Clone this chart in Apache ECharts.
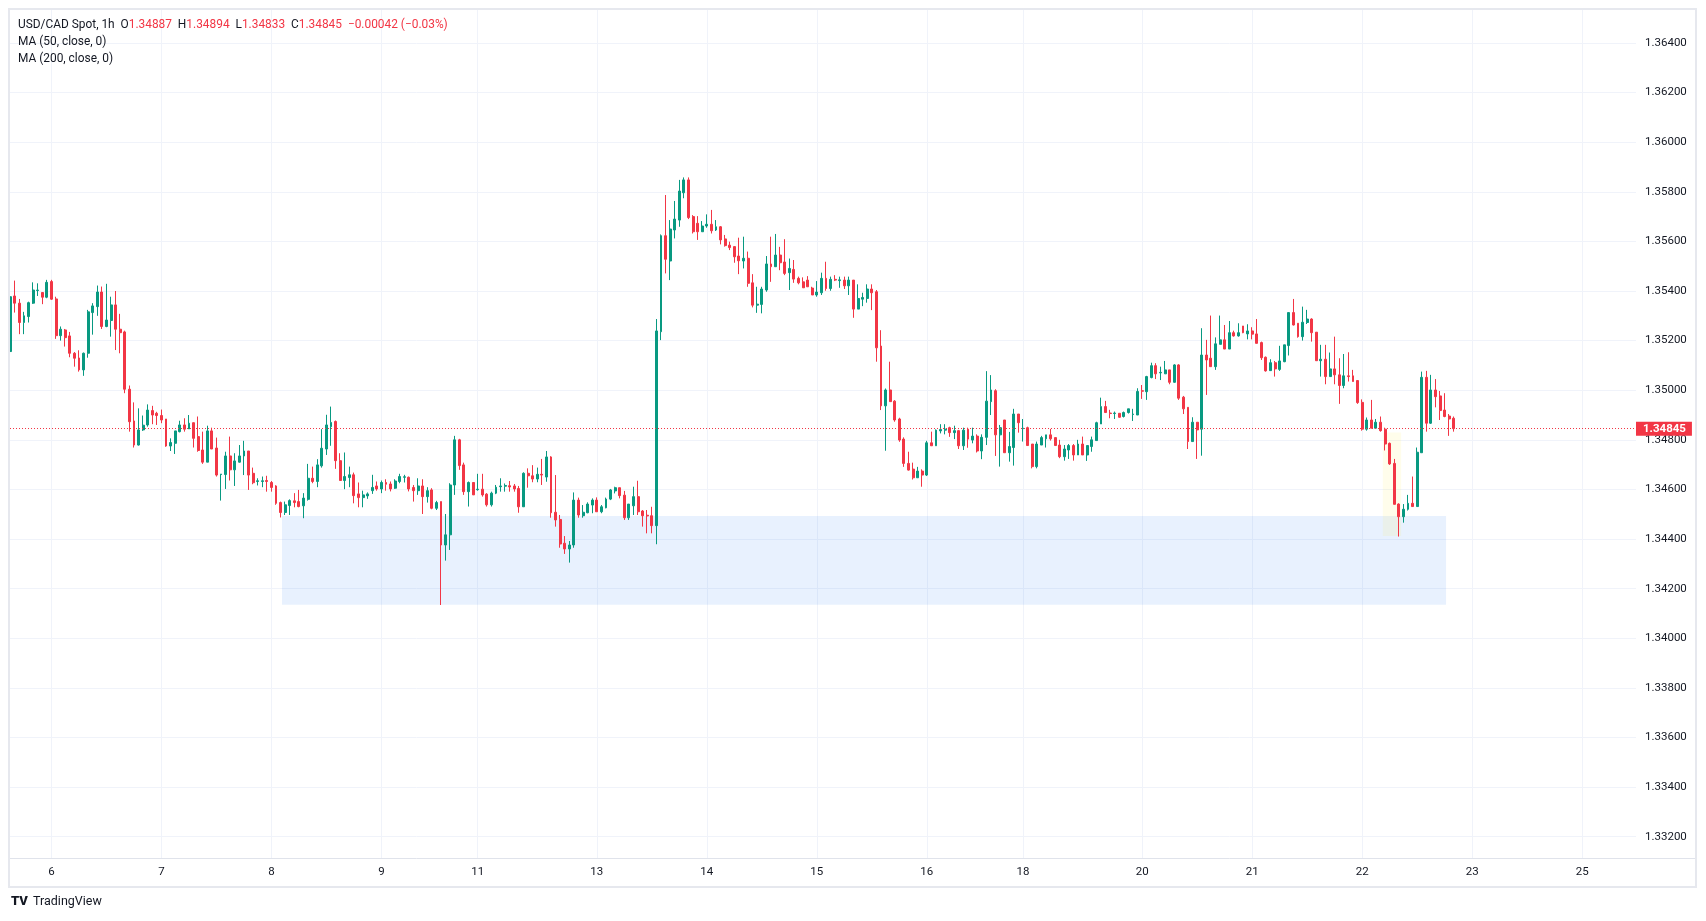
<!DOCTYPE html>
<html>
<head>
<meta charset="utf-8">
<script src="https://cdn.jsdelivr.net/npm/echarts@6/dist/echarts.min.js"></script>
<style>html,body{margin:0;padding:0;background:#fff}#c{width:1706px;height:921px}</style>
</head>
<body>
<div id="c"></div>
<script>
// USD/CAD Spot, 1h candles — each row is [open, high, low, close]
const feb05 = [
[1.35156,1.35442,1.35156,1.35377],[1.35380,1.35442,1.35313,1.35351],[1.35351,1.35368,1.35226,1.35273],
[1.35273,1.35316,1.35226,1.35300],[1.35297,1.35357,1.35273,1.35353],[1.35351,1.35435,1.35348,1.35404],
[1.35402,1.35431,1.35380,1.35404],[1.35394,1.35394,1.35347,1.35375],[1.35375,1.35445,1.35371,1.35435]
];
const feb06 = [
[1.35438,1.35445,1.35364,1.35367],[1.35368,1.35377,1.35207,1.35220],[1.35220,1.35257,1.35200,1.35246],
[1.35243,1.35247,1.35176,1.35212],[1.35219,1.35235,1.35133,1.35149],[1.35149,1.35154,1.35095,1.35129],
[1.35130,1.35161,1.35075,1.35082],[1.35082,1.35152,1.35058,1.35149],[1.35149,1.35324,1.35131,1.35316],
[1.35313,1.35351,1.35224,1.35340],[1.35337,1.35422,1.35300,1.35396],[1.35396,1.35418,1.35247,1.35257],
[1.35257,1.35429,1.35254,1.35283],[1.35281,1.35377,1.35216,1.35344],[1.35344,1.35400,1.35162,1.35246],
[1.35246,1.35308,1.35149,1.35232],[1.35235,1.35240,1.34988,1.35004],[1.35004,1.35019,1.34833,1.34873],
[1.34876,1.34951,1.34769,1.34779],[1.34779,1.34927,1.34777,1.34840],[1.34840,1.34898,1.34836,1.34859],
[1.34860,1.34943,1.34853,1.34920],[1.34918,1.34937,1.34863,1.34900],[1.34907,1.34913,1.34860,1.34898]
];
const feb07 = [
[1.34898,1.34922,1.34867,1.34880],[1.34884,1.34884,1.34772,1.34775],[1.34775,1.34806,1.34755,1.34789],
[1.34786,1.34836,1.34743,1.34836],[1.34833,1.34877,1.34830,1.34860],[1.34860,1.34887,1.34833,1.34843],
[1.34844,1.34900,1.34844,1.34867],[1.34869,1.34870,1.34769,1.34806],[1.34813,1.34894,1.34752,1.34757],
[1.34759,1.34833,1.34703,1.34710],[1.34710,1.34857,1.34710,1.34836],[1.34836,1.34849,1.34763,1.34763],
[1.34767,1.34809,1.34652,1.34658],[1.34660,1.34662,1.34555,1.34662],[1.34660,1.34752,1.34602,1.34735],
[1.34735,1.34813,1.34636,1.34679],[1.34679,1.34746,1.34614,1.34715],[1.34710,1.34779,1.34708,1.34735],
[1.34735,1.34796,1.34658,1.34755],[1.34755,1.34755,1.34598,1.34658],[1.34665,1.34688,1.34621,1.34627],
[1.34632,1.34645,1.34616,1.34635],[1.34632,1.34652,1.34609,1.34635],[1.34636,1.34655,1.34591,1.34632]
];
const feb08 = [
[1.34628,1.34634,1.34591,1.34608],[1.34614,1.34617,1.34538,1.34544],[1.34547,1.34551,1.34487,1.34507],
[1.34507,1.34551,1.34497,1.34538],[1.34535,1.34560,1.34497,1.34555],[1.34554,1.34585,1.34528,1.34547],
[1.34551,1.34598,1.34528,1.34531],[1.34534,1.34585,1.34484,1.34565],[1.34560,1.34703,1.34555,1.34645],
[1.34645,1.34692,1.34625,1.34632],[1.34632,1.34722,1.34609,1.34699],[1.34695,1.34843,1.34688,1.34766],
[1.34763,1.34901,1.34739,1.34860],[1.34853,1.34934,1.34776,1.34870],[1.34874,1.34878,1.34683,1.34716],
[1.34716,1.34746,1.34636,1.34636],[1.34636,1.34749,1.34601,1.34652],[1.34648,1.34692,1.34609,1.34659],
[1.34659,1.34668,1.34544,1.34575],[1.34582,1.34628,1.34528,1.34567],[1.34567,1.34595,1.34528,1.34578],
[1.34574,1.34588,1.34562,1.34582],[1.34595,1.34659,1.34582,1.34608],[1.34614,1.34632,1.34595,1.34602]
];
const feb09 = [
[1.34602,1.34636,1.34585,1.34628],[1.34628,1.34641,1.34595,1.34621],[1.34622,1.34632,1.34592,1.34602],
[1.34605,1.34641,1.34602,1.34634],[1.34632,1.34663,1.34625,1.34652],[1.34649,1.34659,1.34628,1.34651],
[1.34649,1.34652,1.34592,1.34602],[1.34608,1.34618,1.34551,1.34595],[1.34595,1.34645,1.34578,1.34614],
[1.34614,1.34641,1.34501,1.34571],[1.34571,1.34609,1.34547,1.34595],[1.34598,1.34605,1.34520,1.34524],
[1.34524,1.34554,1.34517,1.34547],[1.34551,1.34551,1.34134,1.34376],[1.34376,1.34501,1.34313,1.34417],
[1.34417,1.34625,1.34356,1.34618],[1.34618,1.34816,1.34578,1.34800],[1.34800,1.34804,1.34679,1.34696],
[1.34699,1.34708,1.34578,1.34591],[1.34591,1.34632,1.34531,1.34628],[1.34628,1.34628,1.34578,1.34578]
];
const feb11 = [
[1.34599,1.34663,1.34595,1.34601],[1.34601,1.34663,1.34571,1.34578]
];
const feb12 = [
[1.34581,1.34585,1.34531,1.34538],[1.34538,1.34591,1.34531,1.34585],[1.34585,1.34618,1.34581,1.34609],
[1.34611,1.34645,1.34591,1.34614],[1.34613,1.34624,1.34591,1.34616],[1.34615,1.34634,1.34591,1.34610],
[1.34614,1.34622,1.34591,1.34602],[1.34604,1.34614,1.34506,1.34530],[1.34530,1.34669,1.34530,1.34665],
[1.34665,1.34685,1.34607,1.34655],[1.34655,1.34698,1.34629,1.34642],[1.34642,1.34688,1.34629,1.34661],
[1.34661,1.34723,1.34618,1.34658],[1.34650,1.34755,1.34631,1.34731],[1.34731,1.34734,1.34486,1.34506],
[1.34508,1.34658,1.34450,1.34477],[1.34479,1.34497,1.34365,1.34380],[1.34383,1.34412,1.34340,1.34360],
[1.34360,1.34392,1.34305,1.34376],[1.34376,1.34588,1.34365,1.34557],[1.34557,1.34567,1.34486,1.34497],
[1.34494,1.34537,1.34486,1.34508],[1.34506,1.34548,1.34504,1.34541],[1.34537,1.34564,1.34504,1.34557]
];
const feb13 = [
[1.34557,1.34568,1.34510,1.34510],[1.34510,1.34537,1.34504,1.34530],[1.34526,1.34567,1.34524,1.34561],
[1.34561,1.34602,1.34557,1.34598],[1.34594,1.34611,1.34584,1.34607],[1.34607,1.34607,1.34564,1.34575],
[1.34577,1.34594,1.34477,1.34486],[1.34486,1.34541,1.34477,1.34541],[1.34534,1.34611,1.34497,1.34571],
[1.34571,1.34635,1.34497,1.34510],[1.34513,1.34517,1.34450,1.34494],[1.34496,1.34517,1.34423,1.34493],
[1.34494,1.34530,1.34423,1.34454],[1.34454,1.35287,1.34379,1.35239],[1.35236,1.35628,1.35202,1.35623],
[1.35623,1.35787,1.35471,1.35528],[1.35521,1.35686,1.35444,1.35650],[1.35646,1.35763,1.35612,1.35690],
[1.35686,1.35848,1.35659,1.35803],[1.35796,1.35858,1.35774,1.35848],[1.35848,1.35858,1.35690,1.35696],
[1.35700,1.35706,1.35632,1.35639],[1.35673,1.35702,1.35606,1.35639],[1.35639,1.35682,1.35639,1.35662]
];
const feb14 = [
[1.35662,1.35709,1.35655,1.35669],[1.35669,1.35727,1.35632,1.35643],[1.35646,1.35686,1.35642,1.35659],
[1.35659,1.35662,1.35588,1.35606],[1.35610,1.35626,1.35579,1.35583],[1.35585,1.35599,1.35565,1.35575],
[1.35579,1.35580,1.35514,1.35538],[1.35541,1.35615,1.35468,1.35522],[1.35521,1.35619,1.35491,1.35532],
[1.35532,1.35559,1.35417,1.35431],[1.35433,1.35468,1.35334,1.35343],[1.35343,1.35417,1.35312,1.35347],
[1.35346,1.35417,1.35310,1.35408],[1.35404,1.35541,1.35397,1.35509],[1.35509,1.35619,1.35437,1.35498],
[1.35498,1.35630,1.35498,1.35545],[1.35545,1.35578,1.35484,1.35514],[1.35517,1.35609,1.35464,1.35471],
[1.35474,1.35531,1.35404,1.35491],[1.35487,1.35525,1.35433,1.35448],[1.35451,1.35458,1.35427,1.35433],
[1.35437,1.35455,1.35413,1.35413],[1.35444,1.35460,1.35417,1.35417],[1.35412,1.35417,1.35384,1.35384]
];
const feb15 = [
[1.35384,1.35440,1.35377,1.35396],[1.35393,1.35474,1.35384,1.35451],[1.35451,1.35518,1.35401,1.35410],
[1.35410,1.35458,1.35401,1.35447],[1.35447,1.35464,1.35440,1.35444],[1.35442,1.35458,1.35413,1.35445],
[1.35444,1.35458,1.35408,1.35421],[1.35421,1.35458,1.35384,1.35444],[1.35444,1.35444,1.35292,1.35327],
[1.35327,1.35427,1.35327,1.35370],[1.35367,1.35393,1.35339,1.35374],[1.35370,1.35427,1.35353,1.35408],
[1.35408,1.35427,1.35323,1.35393],[1.35397,1.35404,1.35115,1.35171],[1.35178,1.35242,1.34920,1.34937],
[1.34937,1.35007,1.34756,1.35001],[1.35001,1.35115,1.34954,1.34954],[1.34956,1.34960,1.34873,1.34880],
[1.34884,1.34889,1.34792,1.34799],[1.34803,1.34810,1.34691,1.34705],[1.34705,1.34752,1.34676,1.34678],
[1.34682,1.34708,1.34640,1.34647],[1.34647,1.34691,1.34647,1.34674],[1.34674,1.34681,1.34611,1.34658]
];
const feb16 = [
[1.34658,1.34796,1.34654,1.34788],[1.34788,1.34833,1.34776,1.34776],[1.34776,1.34842,1.34776,1.34839],
[1.34836,1.34863,1.34826,1.34842],[1.34839,1.34863,1.34822,1.34843],[1.34849,1.34853,1.34812,1.34829],
[1.34829,1.34857,1.34803,1.34837],[1.34837,1.34840,1.34763,1.34776],[1.34776,1.34849,1.34759,1.34839],
[1.34843,1.34849,1.34768,1.34803],[1.34799,1.34849,1.34786,1.34815],[1.34815,1.34822,1.34749,1.34755],
[1.34755,1.34822,1.34722,1.34810],[1.34810,1.35077,1.34779,1.34956],[1.34954,1.35061,1.34900,1.35001],
[1.34998,1.35004,1.34735,1.34820],[1.34820,1.34860,1.34692,1.34849],[1.34880,1.34880,1.34748,1.34748],
[1.34748,1.34832,1.34712,1.34773],[1.34769,1.34925,1.34696,1.34904],[1.34904,1.34904,1.34829,1.34869]
];
const feb18 = [
[1.34845,1.34884,1.34793,1.34847],[1.34849,1.34853,1.34777,1.34777]
];
const feb19 = [
[1.34783,1.34783,1.34685,1.34692],[1.34692,1.34793,1.34685,1.34783],[1.34779,1.34816,1.34779,1.34809],
[1.34804,1.34820,1.34769,1.34820],[1.34820,1.34844,1.34797,1.34804],[1.34809,1.34809,1.34777,1.34777],
[1.34779,1.34800,1.34726,1.34732],[1.34732,1.34779,1.34716,1.34763],[1.34759,1.34783,1.34723,1.34777],
[1.34777,1.34783,1.34716,1.34739],[1.34739,1.34800,1.34739,1.34783],[1.34783,1.34813,1.34739,1.34739],
[1.34739,1.34777,1.34715,1.34777],[1.34773,1.34813,1.34752,1.34800],[1.34797,1.34873,1.34797,1.34869],
[1.34864,1.34970,1.34864,1.34934],[1.34934,1.34957,1.34910,1.34910],[1.34908,1.34921,1.34887,1.34906],
[1.34906,1.34914,1.34884,1.34908],[1.34907,1.34907,1.34889,1.34891],[1.34894,1.34914,1.34890,1.34910],
[1.34910,1.34925,1.34906,1.34925],[1.34902,1.34925,1.34876,1.34904],[1.34900,1.35008,1.34900,1.34995]
];
const feb20 = [
[1.34998,1.35021,1.34965,1.34996],[1.34994,1.35058,1.34961,1.35055],[1.35051,1.35111,1.35048,1.35099],
[1.35099,1.35109,1.35045,1.35066],[1.35070,1.35095,1.35041,1.35072],[1.35066,1.35118,1.35066,1.35082],
[1.35082,1.35082,1.35024,1.35032],[1.35032,1.35105,1.35030,1.35102],[1.35102,1.35105,1.34961,1.34968],
[1.34972,1.34977,1.34904,1.34925],[1.34931,1.34931,1.34763,1.34793],[1.34793,1.34891,1.34793,1.34871],
[1.34871,1.34871,1.34723,1.34840],[1.34843,1.35250,1.34736,1.35142],[1.35142,1.35203,1.34981,1.35122],
[1.35129,1.35301,1.35095,1.35095],[1.35095,1.35213,1.35082,1.35187],[1.35185,1.35301,1.35185,1.35203],
[1.35203,1.35263,1.35166,1.35166],[1.35166,1.35279,1.35166,1.35232],[1.35232,1.35240,1.35216,1.35219],
[1.35219,1.35270,1.35216,1.35232],[1.35259,1.35259,1.35230,1.35232],[1.35227,1.35266,1.35205,1.35239]
];
const feb21 = [
[1.35239,1.35254,1.35205,1.35226],[1.35227,1.35287,1.35189,1.35189],[1.35192,1.35196,1.35122,1.35131],
[1.35133,1.35136,1.35075,1.35078],[1.35079,1.35125,1.35079,1.35111],[1.35111,1.35118,1.35055,1.35086],
[1.35084,1.35179,1.35078,1.35118],[1.35115,1.35183,1.35113,1.35183],[1.35180,1.35313,1.35140,1.35313],
[1.35313,1.35368,1.35261,1.35263],[1.35270,1.35270,1.35212,1.35216],[1.35216,1.35337,1.35200,1.35274],
[1.35273,1.35324,1.35267,1.35287],[1.35287,1.35290,1.35196,1.35232],[1.35234,1.35234,1.35119,1.35119],
[1.35119,1.35183,1.35055,1.35125],[1.35125,1.35183,1.35024,1.35055],[1.35055,1.35152,1.35055,1.35086],
[1.35086,1.35216,1.35024,1.35062],[1.35062,1.35129,1.34945,1.35019],[1.35019,1.35146,1.35008,1.35058],
[1.35058,1.35153,1.35035,1.35055],[1.35058,1.35082,1.35035,1.35035],[1.35039,1.35041,1.34945,1.34950]
];
const feb22 = [
[1.34951,1.34963,1.34837,1.34843],[1.34843,1.34890,1.34837,1.34880],[1.34880,1.34961,1.34847,1.34847],
[1.34847,1.34884,1.34844,1.34871],[1.34871,1.34894,1.34833,1.34837],[1.34843,1.34849,1.34757,1.34783],
[1.34786,1.34789,1.34699,1.34703],[1.34705,1.34723,1.34540,1.34540],[1.34541,1.34544,1.34410,1.34490],
[1.34490,1.34541,1.34466,1.34520],[1.34520,1.34578,1.34515,1.34544],[1.34544,1.34652,1.34531,1.34531],
[1.34531,1.34769,1.34531,1.34750],[1.34748,1.35075,1.34748,1.35052],[1.35052,1.35078,1.34833,1.34867],
[1.34867,1.35062,1.34864,1.35001],[1.35001,1.35045,1.34931,1.34974],[1.34977,1.34997,1.34880,1.34918],
[1.34920,1.34988,1.34891,1.34894],[1.34896,1.34904,1.34816,1.34884],[1.34887,1.34894,1.34833,1.34845]
];

// axis ticks
const priceTicks = [1.332,1.334,1.336,1.338,1.340,1.342,1.344,1.346,1.348,1.350,1.352,1.354,1.356,1.358,1.360,1.362,1.364];
const dayTickBars = [9,33,57,81,102,128,152,176,200,221,247,271,295,319,343];
const dayTickLabels = ['6','7','8','9','11','13','14','15','16','18','20','21','22','23','25'];

// annotations
const lastClose = 1.34845;
const supportZone = [59.3, 313.3, 1.34493, 1.34135];   // fromBar, toBar, top, bottom
const dipZone = [299.5, 303.5, 1.34830, 1.34412];
const headerLine = ['USD/CAD Spot, 1h', 'O', '1.34887', 'H', '1.34894', 'L', '1.34833', 'C', '1.34845', '\u22120.00042 (\u22120.03%)'];
const legendLines = ['MA (50, close, 0)', 'MA (200, close, 0)'];

const bars = [].concat(feb05, feb06, feb07, feb08, feb09, feb11, feb12, feb13, feb14, feb15, feb16, feb18, feb19, feb20, feb21, feb22);
const candleData = bars.map((b, i) => [i, b[0], b[3], b[2], b[1]]);

const TXT = '#131722', UP = '#089981', DN = '#F23645', GRID = '#f0f3fa', BORDER = '#e0e3eb';
const FONT = 'Roboto, "Liberation Sans", sans-serif';
const FS = 11.5;
const TFS = 11.9;

const h = headerLine;
const titleText = [
  `{t|${h[0]}}  {t|${h[1]}}{r|${h[2]}}  {t|${h[3]}}{r|${h[4]}}  {t|${h[5]}}{r|${h[6]}}  {t|${h[7]}}{r|${h[8]}}  {r|${h[9]}}`,
  `{t|${legendLines[0]}}`,
  `{t|${legendLines[1]}}`
].join('\n');

const chart = echarts.init(document.getElementById('c'), null, {renderer: 'canvas'});
chart.setOption({
  animation: false,
  backgroundColor: '#ffffff',
  textStyle: {fontFamily: FONT},
  title: {
    left: 18, top: 17, padding: 0,
    text: titleText,
    textStyle: {
      fontFamily: FONT, fontSize: TFS, fontWeight: 'normal', color: TXT, lineHeight: 17,
      rich: {
        t: {fontFamily: FONT, fontSize: TFS, color: TXT, lineHeight: 17},
        r: {fontFamily: FONT, fontSize: TFS, color: DN, lineHeight: 17}
      }
    }
  },
  grid: {left: 10, right: 70, top: 10, bottom: 63, show: false},
  xAxis: {
    type: 'value', min: -0.05, max: 354.75,
    axisLine: {show: true, onZero: false, lineStyle: {color: BORDER, width: 1}},
    axisTick: {show: false, customValues: dayTickBars},
    axisLabel: {
      customValues: dayTickBars,
      formatter: v => { const i = dayTickBars.indexOf(v); return i >= 0 ? dayTickLabels[i] : ''; },
      color: TXT, fontSize: FS, fontFamily: FONT, margin: 8
    },
    splitLine: {show: true, lineStyle: {color: GRID, width: 1}}
  },
  yAxis: [{
    type: 'value', position: 'right', min: 1.33114, max: 1.36533,
    axisLine: {show: false, onZero: false},
    axisTick: {show: false, customValues: priceTicks},
    axisLabel: {customValues: priceTicks, formatter: v => v.toFixed(5), color: TXT, fontSize: FS, fontFamily: FONT, margin: 9},
    splitLine: {show: true, lineStyle: {color: GRID, width: 1}}
  }, {
    type: 'value', position: 'right', min: 1.33114, max: 1.36533,
    axisLine: {show: false, onZero: false},
    axisTick: {show: false, customValues: [lastClose]},
    axisLabel: {
      customValues: [lastClose], formatter: v => v.toFixed(5),
      color: '#ffffff', backgroundColor: DN, fontWeight: 'bold', fontSize: FS, fontFamily: FONT,
      lineHeight: 12, padding: [1, 6, 1, 7], margin: 0
    },
    splitLine: {show: false}
  }],
  series: [{
    type: 'line', data: [], silent: true, z: 1,
    markArea: {
      silent: true,
      data: [
        [{xAxis: supportZone[0], yAxis: supportZone[2], itemStyle: {color: 'rgba(33,120,243,0.10)'}}, {xAxis: supportZone[1], yAxis: supportZone[3]}],
        [{xAxis: dipZone[0], yAxis: dipZone[2], itemStyle: {color: 'rgba(255,235,59,0.10)'}}, {xAxis: dipZone[1], yAxis: dipZone[3]}]
      ]
    }
  }, {
    type: 'candlestick', z: 3,
    data: candleData,
    encode: {x: 0, y: [1, 2, 3, 4]},
    barWidth: 2.4,
    clip: true,
    itemStyle: {color: UP, color0: DN, borderColor: UP, borderColor0: DN, borderWidth: 1},
    markLine: {
      silent: true, symbol: ['none', 'none'], precision: 5,
      label: {show: false},
      lineStyle: {color: DN, type: [1, 2], width: 1},
      data: [{yAxis: lastClose}]
    }
  }],
  graphic: [
    {type: 'rect', silent: true, z: 100, shape: {x: 9, y: 9, width: 1687, height: 878}, style: {fill: 'none', stroke: '#e6e8ee', lineWidth: 2}},
    {type: 'line', silent: true, z: 100, shape: {x1: 1636, y1: 858.5, x2: 1695, y2: 858.5}, style: {stroke: BORDER, lineWidth: 1}},
    {type: 'text', silent: true, left: 11, top: 895, style: {text: 'TV', fontFamily: FONT, fontSize: 13, fontWeight: 900, fill: '#131722'}},
    {type: 'text', silent: true, left: 33, top: 895, style: {text: 'TradingView', fontFamily: FONT, fontSize: 12.5, fill: '#131722'}}
  ]
});
</script>
</body>
</html>
